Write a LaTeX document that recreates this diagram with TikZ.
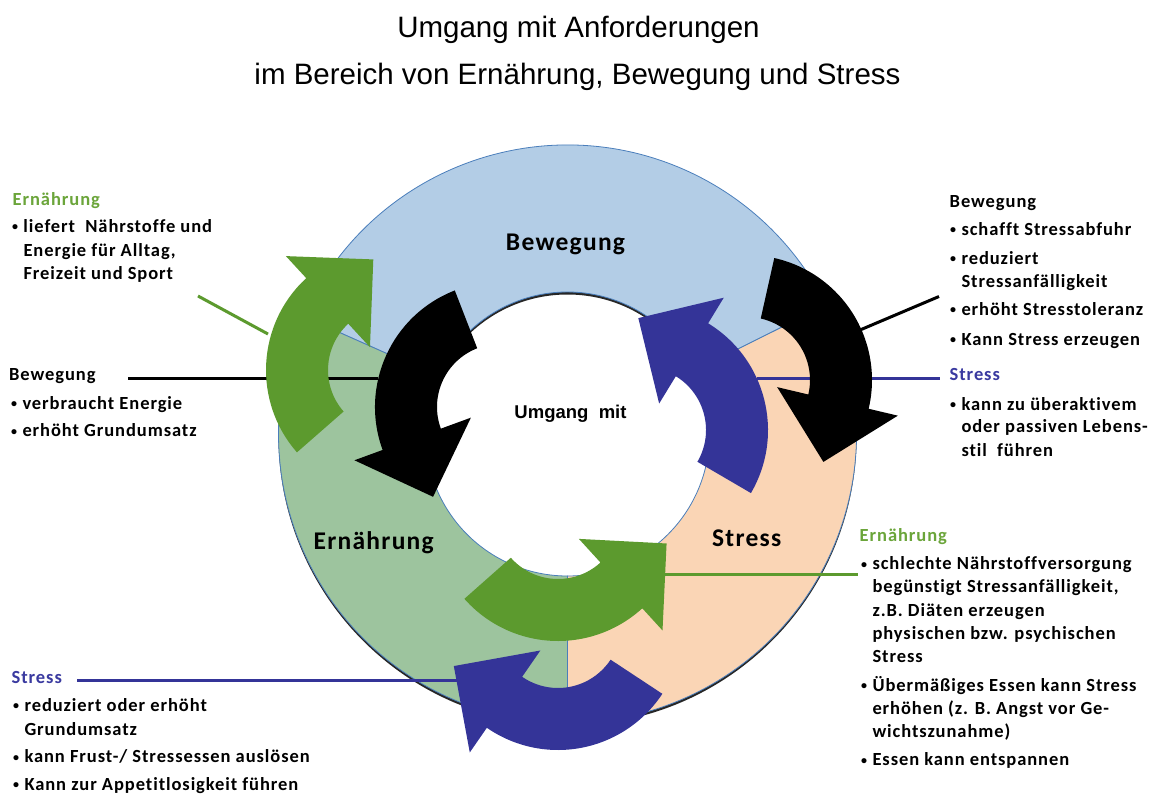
\documentclass[tikz,border=0pt]{standalone}
\usepackage{fontspec}
\usetikzlibrary{calc}
\newfontfamily\calf[LetterSpace=5,Ligatures=NoCommon]{Carlito}
\newfontfamily\arialf{Liberation Sans}
\definecolor{secBlue}{RGB}{179,205,230}
\definecolor{secGreen}{RGB}{157,196,158}
\definecolor{secPeach}{RGB}{250,213,181}
\definecolor{arrGreen}{RGB}{92,154,46}
\definecolor{arrBlue}{RGB}{52,52,152}
\definecolor{edgeBlue}{RGB}{74,126,187}
\definecolor{headGreen}{RGB}{107,165,58}
\definecolor{headBlue}{RGB}{58,58,160}
% circular block arrow: #1,#2 centre, #3 tail angle, #4 head-base angle, #5 tip angle, #6 style
\newcommand\carrow[6]{%
  \fill[#6] ($(#1,#2)+(#3:125)$) arc[start angle=#3,end angle=#4,radius=125]
    -- ($(#1,#2)+(#4:155)$) -- ($(#1,#2)+(#5:112)$) -- ($(#1,#2)+(#4:31)$)
    -- ($(#1,#2)+(#4:63)$) arc[start angle=#4,end angle=#3,radius=63] -- cycle;}
% ring sector: #1 start angle, #2 end angle, #3 style
\newcommand\ringsect[3]{%
  \filldraw[#3] ($(rc)+(#1:289)$) arc[start angle=#1,end angle=#2,radius=289]
    -- ($(rc)+(#2:142)$) arc[start angle=#2,end angle=#1,radius=142] -- cycle;}
\newcommand\bul{\makebox[0pt][c]{\raisebox{1.5pt}{\fontsize{12}{12}\selectfont •}}\hspace{8.3pt}}
\begin{document}
\begin{tikzpicture}[x=1pt,y=-1pt,
  txt/.style={anchor=base west,inner sep=0pt,font=\calf\bfseries\fontsize{18.5}{22}\selectfont},
  grn/.style={txt,text=headGreen},
  blu/.style={txt,text=headBlue},
  lbl/.style={anchor=base,inner sep=0pt,font=\calf\bfseries\fontsize{25.5}{30}\selectfont},
  ttl/.style={anchor=base,inner sep=0pt,font=\arialf\fontsize{29.5}{34}\selectfont},
  sectedge/.style={draw=edgeBlue,line width=0.8pt},
  conn/.style={line width=3pt}]
\useasboundingbox (0,0) rectangle (1150,795);
\fill[white] (0,0) rectangle (1150,795);

% title
\node[ttl] (t1) at (578.5,37) {Umgang mit Anforderungen};
\node[ttl] (t2) at (577.5,84) {im Bereich von Ernährung, Bewegung und Stress};

% ring
\coordinate (rc) at (567.5,434);
\fill[black!85,even odd rule] ($(rc)+(0,2.5)$) circle[radius=289] ($(rc)+(0,2.5)$) circle[radius=142];
\ringsect{204}{333.5}{fill=secBlue,sectedge}
\ringsect{90}{204}{fill=secGreen,sectedge}
\ringsect{-26.5}{90}{fill=secPeach,sectedge}

% ring labels
\node[lbl] (lB) at (565.5,250) {Bewegung};
\node[lbl] (lE) at (373.7,549) {Ernährung};
\node[lbl] (lS) at (746.7,546.7) {Stress};
\node[anchor=base,inner sep=0pt,font=\arialf\bfseries\fontsize{18.5}{22}\selectfont] (lU) at (570.5,418) {Umgang\ \ mit};

% connector end points
\coordinate (cG1a) at (198,296);   \coordinate (cG1b) at (268,334);
\coordinate (cK1a) at (128,378.5); \coordinate (cK1b) at (378,378.5);
\coordinate (cK2a) at (939,296.5); \coordinate (cK2b) at (860,330);
\coordinate (cB1a) at (757,378.5); \coordinate (cB1b) at (940,378.5);
\coordinate (cG2a) at (665,574);   \coordinate (cG2b) at (858,574);
\coordinate (cB2a) at (77,680.7);  \coordinate (cB2b) at (457,680.7);
\draw[conn,arrGreen] (cG1a) -- (cG1b);
\draw[conn,black] (cK1a) -- (cK1b);
\draw[conn,black] (cK2a) -- (cK2b);
\draw[conn,arrBlue] (cB1a) -- (cB1b);
\draw[conn,arrGreen] (cG2a) -- (cG2b);
\draw[conn,arrBlue] (cB2a) -- (cB2b);

% circular arrows
\carrow{391}{370}{138.8}{227.3}{260.9}{arrGreen}
\carrow{500}{407}{248.8}{159.9}{126.7}{black}
\carrow{643}{430}{30.3}{-58.6}{-92.4}{arrBlue}
\carrow{747}{380}{-77.4}{13.3}{47}{black}
\carrow{558}{516}{138.5}{47.6}{14.2}{arrGreen}
\carrow{558}{625}{33.4}{124.7}{158.5}{arrBlue}

% left top block
\node[grn] (eL0) at (12.5,205) {Ernährung};
\node[txt] (eL1) at (15,232.3) {\bul liefert\ \ Nährstoffe und};
\node[txt] (eL2) at (23.3,256) {Energie für Alltag,};
\node[txt] (eL3) at (23.3,279.5) {Freizeit und Sport};

% left middle block
\node[txt] (bL0) at (9,380) {Bewegung};
\node[txt] (bL1) at (14,409) {\bul verbraucht Energie};
\node[txt] (bL2) at (14,436.5) {\bul erhöht Grundumsatz};

% right top block
\node[txt] (bR0) at (949.5,207.5) {Bewegung};
\node[txt] (bR1) at (953,235) {\bul schafft Stressabfuhr};
\node[txt] (bR2) at (953,264) {\bul reduziert};
\node[txt] (bR3) at (961.3,287) {Stressanfälligkeit};
\node[txt] (bR4) at (953,315) {\bul erhöht Stresstoleranz};
\node[txt] (bR5) at (953,345) {\bul Kann Stress erzeugen};
\node[blu] (sR0) at (949.5,380) {Stress};
\node[txt] (sR1) at (953,410) {\bul kann zu überaktivem};
\node[txt] (sR2) at (961.3,432.5) {oder passiven Lebens-};
\node[txt] (sR3) at (961.3,456) {stil\ \ führen};

% right bottom block
\node[grn] (eR0) at (859.5,541) {Ernährung};
\node[txt] (eR1) at (864,569.5) {\bul schlechte Nährstoffversorgung};
\node[txt] (eR2) at (872.3,592.5) {begünstigt Stressanfälligkeit,};
\node[txt] (eR3) at (872.3,616) {z.B. Diäten erzeugen};
\node[txt] (eR4) at (872.3,639.3) {physischen bzw. psychischen};
\node[txt] (eR5) at (872.3,662.7) {Stress};
\node[txt] (eR6) at (864,691) {\bul Übermäßiges Essen kann Stress};
\node[txt] (eR7) at (872.3,714.3) {erhöhen (z. B. Angst vor Ge-};
\node[txt] (eR8) at (872.3,737.7) {wichtszunahme)};
\node[txt] (eR9) at (864,765.7) {\bul Essen kann entspannen};

% left bottom block
\node[blu] (sL0) at (11.5,683.3) {Stress};
\node[txt] (sL1) at (16,711) {\bul reduziert oder erhöht};
\node[txt] (sL2) at (24.3,735) {Grundumsatz};
\node[txt] (sL3) at (16,762.7) {\bul kann Frust-/ Stressessen auslösen};
\node[txt] (sL4) at (16,790) {\bul Kann zur Appetitlosigkeit führen};
\end{tikzpicture}
\end{document}
